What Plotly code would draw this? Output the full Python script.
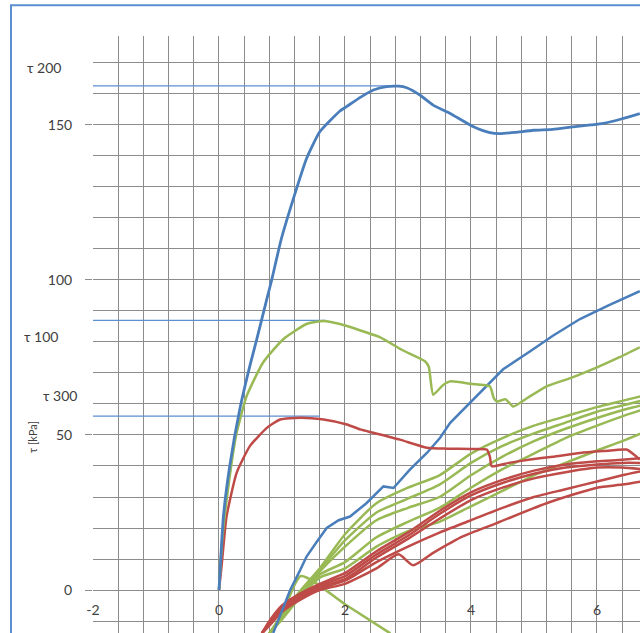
import plotly.graph_objects as go

# ---------------- data ----------------
# Peak curves starting at the origin
blue_peak_x = [0, 0.07, 0.17, 0.33, 0.49, 0.60, 0.76, 0.84, 0.99, 1.23, 1.39, 1.60, 1.92, 2.03, 2.25, 2.45,
               2.66, 2.85, 2.98, 3.20, 3.40, 3.67, 4.04, 4.30, 4.46, 4.70, 4.99, 5.30, 5.62, 5.90, 6.10, 6.40, 6.68]
blue_peak_y = [0, 23.7, 39.9, 58.3, 72.3, 80.9, 93.9, 100.3, 113.3, 129.4, 139.2, 147.8, 154.5, 156, 159, 161.3,
               162.4, 162.5, 162, 159.5, 156.4, 153.7, 149.4, 147.5, 147.2, 147.6, 148.3, 148.6, 149.4, 150, 150.5, 152, 153.7]

green_peak_x = [0, 0.05, 0.12, 0.20, 0.28, 0.44, 0.70, 1.02, 1.39, 1.66, 1.92, 2.19, 2.56, 2.90, 3.27, 3.33,
                3.40, 3.55, 3.67, 4.00, 4.30, 4.36, 4.41, 4.55, 4.67, 4.90, 5.20, 5.60, 6.00, 6.35, 6.68]
green_peak_y = [0, 16, 29, 41, 50.7, 62.6, 73.4, 80.9, 85.8, 86.8, 85.8, 84.1, 81.5, 77.5, 73.8, 72,
                63, 66, 67.3, 66.5, 65.7, 62, 60.8, 61.5, 59.2, 62, 65.7, 68.5, 71.8, 75, 78.3]

red_peak_x = [0, 0.04, 0.12, 0.28, 0.49, 0.76, 0.97, 1.29, 1.66, 2.03, 2.24, 2.45, 2.87, 3.30, 3.60, 4.00,
              4.25, 4.30, 4.33, 4.60, 4.94, 5.30, 5.73, 6.10, 6.47, 6.60, 6.68]
red_peak_y = [0, 7.5, 23.7, 37.8, 46.4, 52.3, 55, 55.6, 55, 53.4, 51.8, 50.7, 48.5, 45.9, 45.6, 45.5,
              45.3, 43, 39.9, 41, 42.1, 43, 44.2, 44.8, 45.3, 43.5, 42.1]

# Second blue curve (from below the axis)
blue_b_x = [0.86, 1.00, 1.13, 1.29, 1.39, 1.55, 1.71, 1.90, 2.08, 2.34, 2.61, 2.77, 3.03, 3.30, 3.51, 3.67,
            4.09, 4.30, 4.51, 4.94, 5.30, 5.73, 6.20, 6.68]
blue_b_y = [-13.9, -6.5, 0, 6.5, 10.8, 15.5, 20, 22.5, 23.7, 28, 33.4, 32.9, 38.8, 44.2, 49.1, 53.9,
            62.6, 67, 71.2, 77, 82, 87.4, 92, 96.4]

# Rising green curves
green_x = [0.8, 1.0, 1.3, 1.6, 2.0, 2.5, 3.0, 3.5, 4.0, 4.5, 5.0, 5.5, 6.0, 6.4, 6.7]
green_1 = [-14, -8, 0, 7, 18, 28, 33, 37, 44, 49, 53, 56, 59, 61, 62.5]
green_2 = [-14, -8.5, -0.5, 6.5, 16, 25, 29.5, 34, 41, 46.5, 50.5, 54, 57.5, 59.5, 61]
green_3 = [-14, -9, -1, 6, 14, 22.5, 26.5, 30, 37, 43, 48, 52, 55.5, 58, 59.5]
green_4 = [-14, -9, -1.5, 5, 9, 17, 22, 26.5, 33, 39, 44, 49, 53, 56, 58]
green_5 = [-14, -9.5, -2, 4, 7, 14, 19, 22, 27, 32, 37, 41, 45, 48, 50.5]
# Green curve going back down
green_down_x = [0.8, 1.0, 1.3, 2.0, 2.72]
green_down_y = [-14, -8, 4.5, -4.6, -14]

# Rising red curves
red_x = [0.68, 0.8, 1.0, 1.3, 1.6, 2.0, 2.5, 3.0, 3.5, 4.0, 4.5, 5.0, 5.5, 6.0, 6.4, 6.7]
red_1 = [-14, -10, -5, -1, 2, 5.5, 12.5, 18.5, 25.5, 31.5, 35.5, 38.5, 40.5, 41.5, 42, 42.5]
red_2 = [-14, -10.5, -5.5, -1.5, 1.5, 4.5, 11.5, 17.5, 24.5, 30.5, 34.5, 37.5, 39.5, 40.5, 41, 41]
red_3 = [-14, -11, -6, -2, 1, 3.5, 10.5, 16.5, 23, 29, 33, 36, 38, 39.5, 39.5, 39]
red_4 = [-14, -11, -6.5, -2.5, 0.5, 3, 9, 14, 18.5, 22.5, 26.5, 30, 32.5, 35, 37, 38.3]
red_5_x = [0.68, 0.8, 1.0, 1.3, 1.6, 2.0, 2.5, 2.85, 3.08, 3.4, 3.87, 4.41, 5.2, 6.0, 6.4, 6.7]
red_5 = [-14, -11.5, -7, -3, 0, 2, 7, 11.5, 8, 12, 17.3, 21.6, 28, 33, 34, 35]

# Peak reference levels (horizontal lines) and their labels
tau_levels = [162.6, 87.0, 56.1]
tau_ends = [2.7, 1.7, 1.6]
tau_labels = ["τ 200", "τ 100", "τ 300"]

y_ticks = [0, 50, 100, 150]
x_ticks = [-2, 0, 2, 4, 6]
x_tick_text = ["-2", "0", "2", "4", "6"]

# ---------------- styling ----------------
BLUE = "#4a7ebb"
GREEN = "#98b954"
RED = "#be4b48"
REF = "#5b8fd0"
GRID = "#8c8c8c"
TXT = "#404040"
FONT = "Lato, 'DejaVu Sans', sans-serif"

fig = go.Figure()

for lvl, xe in zip(tau_levels, tau_ends):
    fig.add_trace(go.Scatter(x=[-2.08, xe], y=[lvl, lvl], mode="lines",
                             line=dict(color=REF, width=1.3), showlegend=False, hoverinfo="skip"))

for xs, ys in [(green_x, green_5), (green_x, green_4), (green_x, green_3), (green_x, green_2), (green_x, green_1),
               (green_down_x, green_down_y)]:
    fig.add_trace(go.Scatter(x=xs, y=ys, mode="lines", line=dict(color=GREEN, width=2.5, shape="spline", smoothing=0.6),
                             showlegend=False))

for xs, ys in [(red_x, red_1), (red_x, red_2), (red_x, red_3), (red_x, red_4), (red_5_x, red_5)]:
    fig.add_trace(go.Scatter(x=xs, y=ys, mode="lines", line=dict(color=RED, width=2.5, shape="spline", smoothing=0.6),
                             showlegend=False))

fig.add_trace(go.Scatter(x=blue_b_x, y=blue_b_y, mode="lines", line=dict(color=BLUE, width=2.5), showlegend=False))
fig.add_trace(go.Scatter(x=red_peak_x, y=red_peak_y, mode="lines",
                         line=dict(color=RED, width=2.5, shape="spline", smoothing=0.5), showlegend=False))
fig.add_trace(go.Scatter(x=green_peak_x, y=green_peak_y, mode="lines",
                         line=dict(color=GREEN, width=2.5, shape="spline", smoothing=0.5), showlegend=False))
fig.add_trace(go.Scatter(x=blue_peak_x, y=blue_peak_y, mode="lines",
                         line=dict(color=BLUE, width=2.8, shape="spline", smoothing=0.5), showlegend=False))

W, H = 640, 633
L, T = 93, 36
pw, ph = W - L, H - T
y0, y1 = -13.87, 178.7

def px(xp):
    return (xp - L) / pw

def py(yp):
    return (H - yp) / ph

fig.update_layout(
    width=W, height=H,
    margin=dict(l=L, r=0, t=T, b=0),
    paper_bgcolor="white", plot_bgcolor="white",
    font=dict(family=FONT, color=TXT, size=14),
    xaxis=dict(range=[-2, 6.683], tickvals=x_ticks, ticktext=x_tick_text,
               showgrid=True, gridcolor=GRID, gridwidth=1, zeroline=False, showline=False,
               ticks="", ticklabelstandoff=10,
               minor=dict(tick0=-2, dtick=0.4, showgrid=True, gridcolor=GRID, gridwidth=1),
               anchor="free", position=(0 - y0) / (y1 - y0),
               tickfont=dict(size=14, color=TXT, family=FONT)),
    yaxis=dict(range=[y0, y1], tickvals=y_ticks,
               showgrid=True, gridcolor=GRID, gridwidth=1, zeroline=False, showline=False,
               ticks="outside", ticklen=7, tickcolor=GRID, ticklabelstandoff=10,
               minor=dict(tick0=0, dtick=10, showgrid=True, gridcolor=GRID, gridwidth=1),
               tickfont=dict(size=14, color=TXT, family=FONT)),
    shapes=[dict(type="rect", xref="paper", yref="paper",
                 x0=px(11), x1=1.2, y0=-0.2, y1=py(5.3),
                 line=dict(color="#5b8fd0", width=2), fillcolor="rgba(0,0,0,0)", layer="above")],
)

label_pos = [(44, 67), (41, 336), (60, 396)]
for txt, (ax_, ay_) in zip(tau_labels, label_pos):
    fig.add_annotation(x=px(ax_), y=py(ay_), xref="paper", yref="paper", text=txt, showarrow=False,
                       xanchor="center", yanchor="middle", font=dict(size=14, color=TXT, family=FONT))
fig.add_annotation(x=px(32.5), y=py(437.5), xref="paper", yref="paper", text="τ [kPa]", showarrow=False,
                   textangle=-90, xanchor="center", yanchor="middle", font=dict(size=11, color=TXT, family=FONT))

fig.write_html("out.html")
